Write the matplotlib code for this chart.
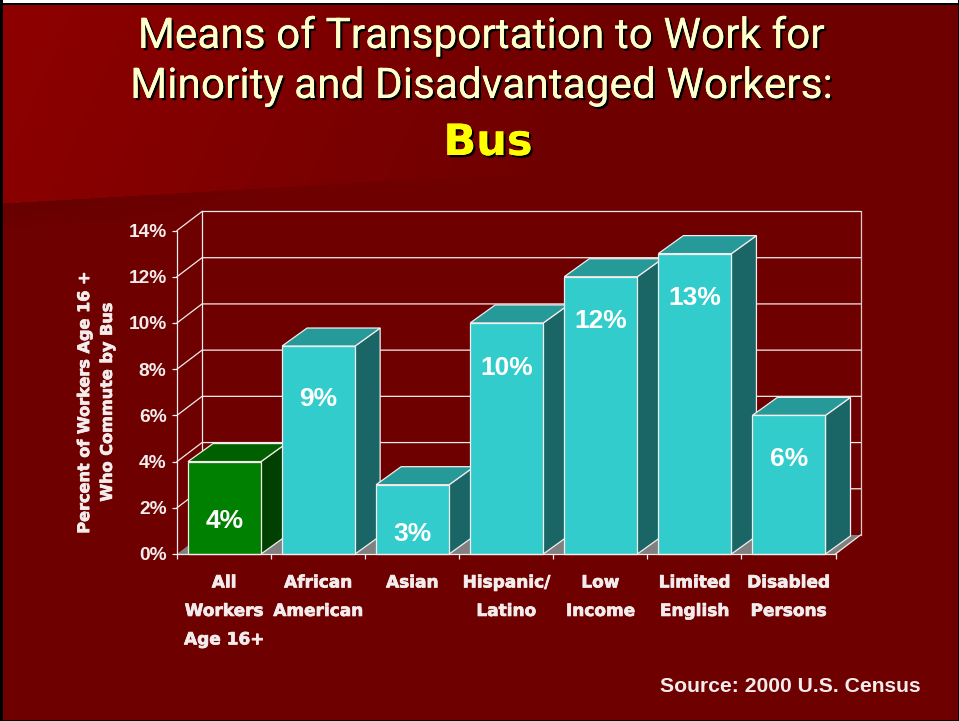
import numpy as np
import matplotlib
matplotlib.use("Agg")
import matplotlib.pyplot as plt
import matplotlib.patheffects as pe
from matplotlib.patches import Polygon

W, H = 959, 721

categories = ["All\nWorkers\nAge 16+", "African\nAmerican", "Asian", "Hispanic/\nLatino",
              "Low\nIncome", "Limited\nEnglish", "Disabled\nPersons"]
values = [4, 9, 3, 10, 12, 13, 6]
labels = ["4%", "9%", "3%", "10%", "12%", "13%", "6%"]
label_y = [1.42, 6.72, 0.86, 8.05, 10.08, 11.08, 4.13]   # where the % text sits, in axis units
yticks = [0, 2, 4, 6, 8, 10, 12, 14]

fig = plt.figure(figsize=(W/100, H/100), dpi=100)

# background, brighter red top left with a darker lower band
bg = fig.add_axes([0, 0, 1, 1])
yy, xx = np.mgrid[0:H, 0:W]
img = np.zeros((H, W, 3))
fade = np.clip(1 - xx/620 - yy/1400, 0, 1)
img[..., 0] = 111 + 32*fade
edge = 203 - (xx - 3)*0.058
low = yy > edge
band = np.clip(1 - (yy - edge)/28, 0, 1)*np.clip(1 - xx/260, 0, 1)
img[..., 0] = np.where(low, 110 - 8*band, img[..., 0])
img[:3, :] = 255
img[3:5, :] = 0
img[:, :3] = 0
img[:, W-1:] = 0
img[H-1:, :] = 0
bg.imshow(img/255, aspect="auto", interpolation="nearest")
bg.axis("off")

# main axes is the front plane of the chart
ax = fig.add_axes([177/W, 1-554/H, (835.5-177)/W, (554-230.5)/H])
ax.patch.set_visible(False)
ax.set_xlim(0, 7)
ax.set_ylim(0, 14)
dx = 25/94
dy = 19/23.1
lw = 0.9
white = "#f4ecec"
heavy = [pe.withStroke(linewidth=0.5, foreground=white)]

# floor
ax.add_patch(Polygon([(0, 0), (7, 0), (7+dx, dy), (dx, dy)], fc="#808080", ec="none", clip_on=False, zorder=1))

# walls and gridlines
for y in yticks[1:]:
    ax.plot([0, dx, 7+dx], [y, y+dy, y+dy], color=white, lw=lw, clip_on=False, zorder=2)
ax.plot([dx, dx], [dy, 14+dy], color=white, lw=lw, clip_on=False, zorder=2)
ax.plot([7+dx, 7+dx], [dy, 14+dy], color="#e0c8c8", lw=lw, clip_on=False, zorder=2)
ax.plot([7, 7+dx], [0, dy], color=white, lw=lw, clip_on=False, zorder=2)

# bars, left to right so each one overlaps the previous side face
pad = 11/94
bw = 73/94
bdx = 25/94
bdy = 18/23.1
for i, v in enumerate(values):
    if i == 0:
        front, top, side = "#008000", "#006000", "#004000"
    else:
        front, top, side = "#33cccc", "#269999", "#1a6666"
    x0 = i + pad
    x1 = x0 + bw
    z = 3 + i
    ax.add_patch(Polygon([(x1, 0), (x1+bdx, bdy), (x1+bdx, v+bdy), (x1, v)], fc=side, ec=white, lw=lw, clip_on=False, zorder=z))
    ax.add_patch(Polygon([(x0, v), (x1, v), (x1+bdx, v+bdy), (x0+bdx, v+bdy)], fc=top, ec=white, lw=lw, clip_on=False, zorder=z))
    ax.add_patch(Polygon([(x0, 0), (x1, 0), (x1, v), (x0, v)], fc=front, ec=white, lw=lw, clip_on=False, zorder=z))
    ax.text((x0+x1)/2, label_y[i], labels[i], color="white", fontsize=19, fontweight="bold",
            family="Liberation Sans", ha="center", va="center", zorder=20)

for s in ["top", "right"]:
    ax.spines[s].set_visible(False)
for s in ["left", "bottom"]:
    ax.spines[s].set_color(white)
    ax.spines[s].set_linewidth(lw)
    ax.spines[s].set_zorder(15)

ax.set_yticks(yticks)
ax.set_yticklabels([f"{t}%" for t in yticks], color=white, fontsize=13.8, fontweight="bold", family="Liberation Sans")
ax.tick_params(axis="y", length=3.5, width=lw, color=white, pad=4)
ax.set_xticks(range(8))
ax.set_xticklabels([])
ax.tick_params(axis="x", which="major", length=3.5, width=lw, color=white)
ax.set_xticks(np.arange(7)+0.5, minor=True)
ticklabels = ax.set_xticklabels(categories, minor=True, color=white, fontsize=12.2, fontweight="bold",
                                family="DejaVu Sans", linespacing=1.75)
for t in ticklabels:
    t.set_path_effects(heavy)
ax.tick_params(axis="x", which="minor", length=0, pad=14)

# axis title and source
fig.text(96/W, 1-402/H, "Percent of Workers Age 16 +\nWho Commute by Bus", rotation=90, color=white,
         fontsize=11.6, fontweight="bold", family="DejaVu Sans", ha="center", va="center",
         multialignment="center", linespacing=1.65, path_effects=heavy)
fig.text(921/W, 1-686/H, "Source: 2000 U.S. Census", color=white, fontsize=15.2, fontweight="bold",
         family="Liberation Sans", ha="right", va="center")

# title with hard shadow
shadow = [pe.withSimplePatchShadow(offset=(1.6, -1.6), shadow_rgbFace="black", alpha=1), pe.Normal()]
fig.text(481/W, 1-48/H, "Means of Transportation to Work for", color="#ffffcc", fontsize=30.5,
         family="Roboto", ha="center", va="baseline", path_effects=shadow)
fig.text(481/W, 1-98/H, "Minority and Disadvantaged Workers:", color="#ffffcc", fontsize=30.5,
         family="Roboto", ha="center", va="baseline", path_effects=shadow)
fig.text(488/W, 1-155/H, "Bus", color="#ffff00", fontsize=31, fontweight="bold",
         family="DejaVu Sans", ha="center", va="baseline", path_effects=shadow)

fig.savefig("out.png", dpi=100)
